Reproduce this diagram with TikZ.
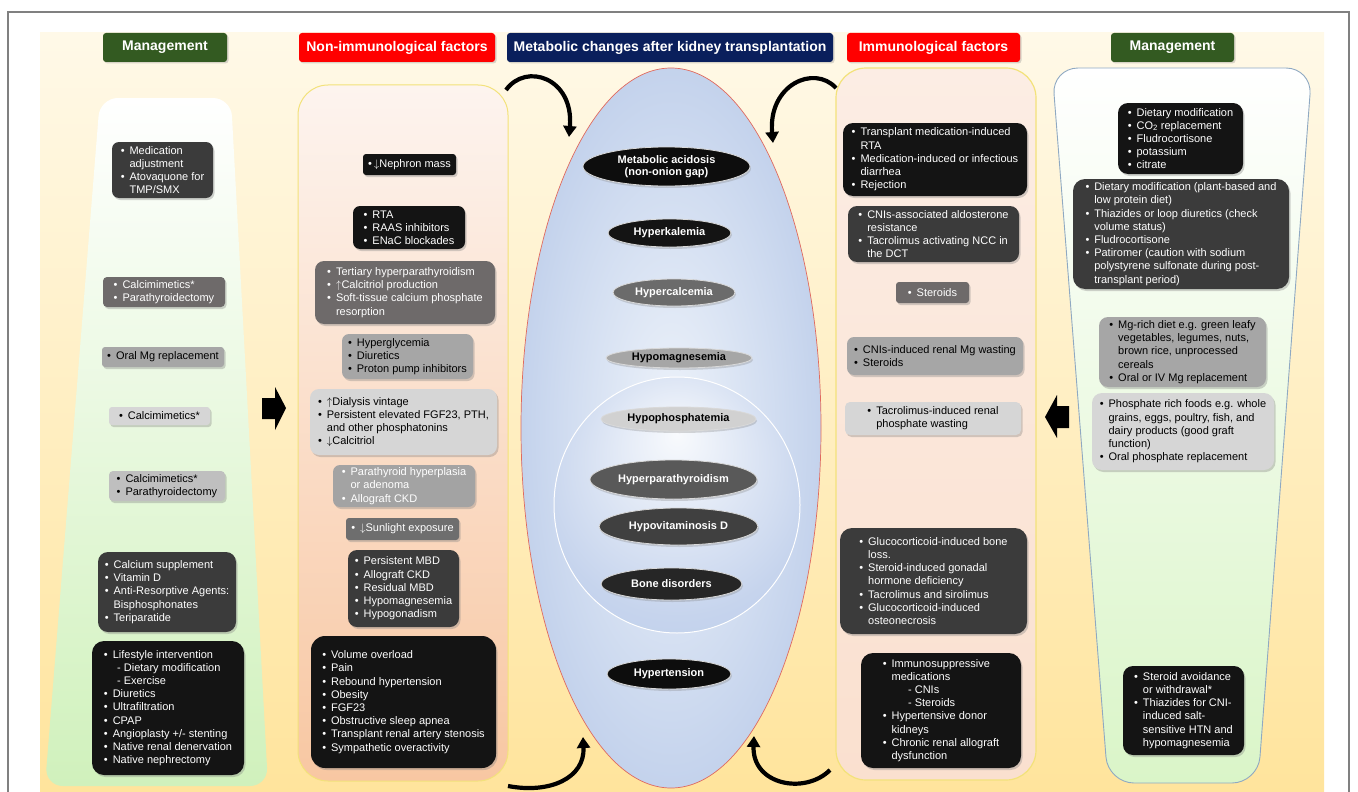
\documentclass[tikz,border=0pt]{standalone}
\usepackage{fontspec}
\setmainfont{Liberation Sans}
\usetikzlibrary{shapes.geometric,shadows,arrows.meta}
\definecolor{creamT}{HTML}{FFF9E8}
\definecolor{creamB}{HTML}{FFE49C}
\definecolor{lgM}{HTML}{EEFAE2}
\definecolor{lgB}{HTML}{D0F1BC}
\definecolor{rgM}{HTML}{F6FCEF}
\definecolor{rgB}{HTML}{DAF5C8}
\definecolor{peachT}{HTML}{FDF4EF}
\definecolor{peachB}{HTML}{F8C7A2}
\definecolor{immT}{HTML}{FCEDE4}
\definecolor{immB}{HTML}{FAE0CF}
\definecolor{panelline}{HTML}{F3E27A}
\definecolor{rline}{HTML}{8FA9C2}
\definecolor{hgreen}{HTML}{335A21}
\definecolor{hred}{HTML}{FF0000}
\definecolor{hnavy}{HTML}{0A1F5C}
\definecolor{cA}{HTML}{141414}
\definecolor{cB}{HTML}{3B3B3B}
\definecolor{cC}{HTML}{6E6A6A}
\definecolor{cD}{HTML}{A6A6A6}
\definecolor{cE}{HTML}{D6D6D6}
\definecolor{cF}{HTML}{BFBFBF}
\definecolor{eggL}{HTML}{EEF3FA}
\definecolor{eggM}{HTML}{CCD9EF}
\definecolor{eggE}{HTML}{A4B9E1}
\definecolor{innL}{HTML}{F8FAFD}
\definecolor{innM}{HTML}{C6D4ED}
\definecolor{innE}{HTML}{B2C5E7}
\definecolor{eggline}{HTML}{E06A5E}
\pgfdeclareradialshading{blueegg}{\pgfpoint{0bp}{0bp}}{color(0bp)=(eggL); color(20bp)=(eggM); color(44bp)=(eggE); color(50bp)=(eggE)}
\pgfdeclareradialshading{innercirc}{\pgfpoint{0bp}{14bp}}{color(0bp)=(innL); color(28bp)=(innM); color(50bp)=(innE)}
\newcommand\bi{\makebox[0.8em][l]{\textbullet}}
\newcommand\ci{\hspace*{0.8em}}
\newcommand\si{\hspace*{1.2em}}
\begin{document}
\begin{tikzpicture}[x=1pt,y=-1pt,
  bx/.style={rounded corners=7pt, align=left, inner sep=2pt,
    font=\fontsize{11}{13.2}\selectfont,
    drop shadow={shadow xshift=1.5pt, shadow yshift=-2pt, opacity=0.35}},
  dk/.style={bx, fill=#1, text=white},
  lt/.style={bx, fill=#1, text=black},
  sz/.style 2 args={minimum width=#1pt, minimum height=#2pt},
  hd/.style={rounded corners=3pt, fill=#1, text=white, inner sep=0pt,
    font=\bfseries\fontsize{14}{16}\selectfont, minimum height=29pt,
    drop shadow={shadow xshift=1.5pt, shadow yshift=-1.5pt, opacity=0.3}},
  elp/.style 2 args={ellipse, fill=#1, text=#2, draw=black!15, line width=0.8pt,
    inner sep=0pt, align=center, font=\bfseries\fontsize{11}{12.5}\selectfont,
    drop shadow={shadow xshift=1pt, shadow yshift=-2pt, opacity=0.3}},
  carrow/.style={line width=4.2pt, -{Triangle[length=11pt,width=13pt]}},
  blockarrow/.style={fill=black}
]
\useasboundingbox (0,0) rectangle (1358,792);
\fill[white] (0,0) rectangle (1358,792);
\draw[black!50, line width=1.2pt] (8,792) -- (8,12) -- (1349,12) -- (1349,792);
\shade[top color=creamT, bottom color=creamB] (40,33) rectangle (1324,792);

% side management shapes
\shade[top color=white, middle color=lgM, bottom color=lgB, rounded corners=18pt]
  (100,98) -- (231,98) -- (268,786) -- (45,786) -- cycle;
\shadedraw[draw=rline, line width=0.9pt, top color=white, middle color=rgM, bottom color=rgB, rounded corners=26pt]
  (1052,68) -- (1312,68) -- (1258,783) -- (1108,783) -- cycle;

% factor panels
\shadedraw[draw=panelline, line width=1pt, top color=peachT, bottom color=peachB, rounded corners=30pt]
  (298,85) rectangle (508,781);
\shadedraw[draw=panelline, line width=1.2pt, top color=immT, bottom color=immB, rounded corners=30pt]
  (836,68) rectangle (1036,780);

% central egg
\shadedraw[draw=eggline, line width=0.7pt, shading=blueegg] (671,428) ellipse [x radius=150, y radius=360];
\shadedraw[draw=white, line width=1pt, shading=innercirc] (677,505) ellipse [x radius=123, y radius=128];

% headers
\node[hd=hgreen, minimum width=124pt] (h1) at (165,47.5) {Management};
\node[hd=hred, minimum width=196pt] (h2) at (397,47.5) {Non-immunological factors};
\node[hd=hnavy, minimum width=326pt] (h3) at (670,47.5) {Metabolic changes after kidney transplantation};
\node[hd=hred, minimum width=173pt] (h4) at (933.5,47.5) {Immunological factors};
\node[hd=hgreen, minimum width=123pt] (h5) at (1172.5,47.5) {Management};

% curved arrows
\coordinate (a1s) at (506,90);  \coordinate (a1e) at (569,137);
\coordinate (a2s) at (836,88);  \coordinate (a2e) at (773,143);
\coordinate (a3s) at (508,786); \coordinate (a3e) at (583,737);
\coordinate (a4s) at (830,770); \coordinate (a4e) at (754,736);
\draw[carrow] (a1s) .. controls (526,62) and (574,78) .. (a1e);
\draw[carrow] (a2s) .. controls (814,64) and (768,85) .. (a2e);
\draw[carrow] (a3s) .. controls (550,794) and (585,778) .. (a3e);
\draw[carrow] (a4s) .. controls (805,795) and (752,785) .. (a4e);

% block arrows
\fill[blockarrow] (262,398) -- (275,398) -- (275,387) -- (286,408) -- (275,430) -- (275,419) -- (262,419) -- cycle;
\fill[blockarrow] (1069,406) -- (1057,406) -- (1057,395) -- (1045,417) -- (1057,438) -- (1057,428) -- (1069,428) -- cycle;

% central ellipses
\node[elp={black!95}{white}, minimum width=167pt, minimum height=39pt] (e1) at (666.5,166.5) {Metabolic acidosis\\(non-onion gap)};
\node[elp={cA}{white}, minimum width=123pt, minimum height=28pt] (e2) at (669.5,233) {Hyperkalemia};
\node[elp={black!58}{white}, minimum width=122pt, minimum height=27pt] (e3) at (674,292.5) {Hypercalcemia};
\node[elp={cD}{black}, minimum width=146pt, minimum height=20pt] (e4) at (679,358) {Hypomagnesemia};
\node[elp={black!18}{black}, minimum width=155pt, minimum height=24pt] (e5) at (678.5,419) {Hypophosphatemia};
\node[elp={black!65}{white}, minimum width=167pt, minimum height=39pt] (e6) at (673.5,479.5) {Hyperparathyroidism};
\node[elp={black!75}{white}, minimum width=159pt, minimum height=37pt] (e7) at (678.5,526.5) {Hypovitaminosis D};
\node[elp={black!85}{white}, minimum width=141pt, minimum height=32pt] (e8) at (671.5,584) {Bone disorders};
\node[elp={black!95}{white}, minimum width=124pt, minimum height=30pt] (e9) at (669,674) {Hypertension};

% left management boxes
\node[dk=cB, sz={101}{56}] (L1) at (162.5,170) {\bi Medication\\\ci adjustment\\\bi Atovaquone for\\\ci TMP/SMX};
\node[dk=cC, sz={122}{30}, rounded corners=4pt] (L2) at (164,292) {\bi Calcimimetics*\\\bi Parathyroidectomy};
\node[lt=cD, sz={122}{20}, rounded corners=3pt] (L3) at (163,357) {\bi Oral Mg replacement};
\node[lt=cE, sz={101}{18}, rounded corners=3pt] (L4) at (159.5,416) {\bi Calcimimetics*};
\node[lt=cF, sz={116}{30}, rounded corners=4pt] (L5) at (167,486) {\bi Calcimimetics*\\\bi Parathyroidectomy};
\node[dk=cB, sz={138}{80}, rounded corners=10pt] (L6) at (167,592) {\bi Calcium supplement\\\bi Vitamin D\\\bi Anti-Resorptive Agents:\\\ci Bisphosphonates\\\bi Teriparatide};
\node[dk=cA, sz={152}{134}, rounded corners=12pt] (L7) at (168,708) {\bi Lifestyle intervention\\\si - Dietary modification\\\si - Exercise\\\bi Diuretics\\\bi Ultrafiltration\\\bi CPAP\\\bi Angioplasty +/- stenting\\\bi Native renal denervation\\\bi Native nephrectomy};

% non-immunological boxes
\node[dk=cA, sz={93}{21}, rounded corners=3pt] (N1) at (409.5,164.5) {\textbullet\,$\downarrow$Nephron mass};
\node[dk=cA, sz={112}{43}] (N2) at (409,227.5) {\bi RTA\\\bi RAAS inhibitors\\\bi ENaC blockades};
\node[dk=cC, sz={180}{63}, rounded corners=9pt] (N3) at (405,292.5) {\bi Tertiary hyperparathyroidism\\\bi $\uparrow$Calcitriol production\\\bi Soft-tissue calcium phosphate\\\ci resorption};
\node[lt=cD, sz={131}{45}] (N4) at (407.5,356.5) {\bi Hyperglycemia\\\bi Diuretics\\\bi Proton pump inhibitors};
\node[lt=cE, sz={187}{66}, rounded corners=9pt] (N5) at (403.5,422) {\bi $\uparrow$Dialysis vintage\\\bi Persistent elevated FGF23, PTH,\\\ci and other phosphatonins\\\bi $\downarrow$Calcitriol};
\node[dk=black!36, sz={142}{42}] (N6) at (404,486) {\bi Parathyroid hyperplasia\\\ci or adenoma\\\bi Allograft CKD};
\node[dk=black!57, sz={113}{22}, rounded corners=3pt] (N7) at (402.5,529) {\bi $\downarrow$Sunlight exposure};
\node[dk=cB, sz={111}{77}, rounded corners=9pt] (N8) at (403.5,588.5) {\bi Persistent MBD\\\bi Allograft CKD\\\bi Residual MBD\\\bi Hypomagnesemia\\\bi Hypogonadism};
\node[dk=cA, sz={185}{132}, rounded corners=14pt] (N9) at (403.5,702) {\bi Volume overload\\\bi Pain\\\bi Rebound hypertension\\\bi Obesity\\\bi FGF23\\\bi Obstructive sleep apnea\\\bi Transplant renal artery stenosis\\\bi Sympathetic overactivity};

% immunological boxes
\node[dk=cA, sz={184}{73}, rounded corners=10pt] (I1) at (935,159.5) {\bi Transplant medication-induced\\\ci RTA\\\bi Medication-induced or infectious\\\ci diarrhea\\\bi Rejection};
\node[dk=cB, sz={171}{56}, rounded corners=9pt] (I2) at (933.5,234) {\bi CNIs-associated aldosterone\\\ci resistance\\\bi Tacrolimus activating NCC in\\\ci the DCT};
\node[dk=cC, sz={73}{21}, rounded corners=3pt] (I3) at (932.5,292.5) {\bi Steroids};
\node[lt=cD, sz={176}{38}] (I4) at (935,356) {\bi CNIs-induced renal Mg wasting\\\bi Steroids};
\node[lt=cE, sz={176}{33}, rounded corners=5pt] (I5) at (933,418.5) {\bi Tacrolimus-induced renal\\\ci phosphate wasting};
\node[dk=cB, sz={187}{106}, rounded corners=12pt] (I6) at (933.5,581) {\bi Glucocorticoid-induced bone\\\ci loss.\\\bi Steroid-induced gonadal\\\ci hormone deficiency\\\bi Tacrolimus and sirolimus\\\bi Glucocorticoid-induced\\\ci osteonecrosis};
\node[dk=cA, sz={160}{115}, rounded corners=12pt] (I7) at (941,710.5) {\bi Immunosuppressive\\\ci medications\\\hspace*{2.3em}- CNIs\\\hspace*{2.3em}- Steroids\\\bi Hypertensive donor\\\ci kidneys\\\bi Chronic renal allograft\\\ci dysfunction};

% right management boxes
\node[dk=cA, sz={125}{71}, rounded corners=10pt] (R1) at (1180.5,138.5) {\bi Dietary modification\\\bi CO\textsubscript{2} replacement\\\bi Fludrocortisone\\\bi potassium\\\bi citrate};
\node[dk=cB, sz={216}{110}, rounded corners=12pt] (R2) at (1181,234) {\bi Dietary modification (plant-based and\\\ci low protein diet)\\\bi Thiazides or loop diuretics (check\\\ci volume status)\\\bi Fludrocortisone\\\bi Patiromer (caution with sodium\\\ci polystyrene sulfonate during post-\\\ci transplant period)};
\node[lt=cD, sz={167}{70}, rounded corners=9pt] (R3) at (1182.5,352) {\bi Mg-rich diet e.g. green leafy\\\ci vegetables, legumes, nuts,\\\ci brown rice, unprocessed\\\ci cereals\\\bi Oral or IV Mg replacement};
\node[lt=cE, sz={182}{77}, rounded corners=10pt] (R4) at (1183,431.5) {\bi Phosphate rich foods e.g. whole\\\ci grains, eggs, poultry, fish, and\\\ci dairy products (good graft\\\ci function)\\\bi Oral phosphate replacement};
\node[dk=cA, sz={121}{89}, rounded corners=10pt] (R5) at (1183.5,710.5) {\bi Steroid avoidance\\\ci or withdrawal*\\\bi Thiazides for CNI-\\\ci induced salt-\\\ci sensitive HTN and\\\ci hypomagnesemia};
\end{tikzpicture}
\end{document}
